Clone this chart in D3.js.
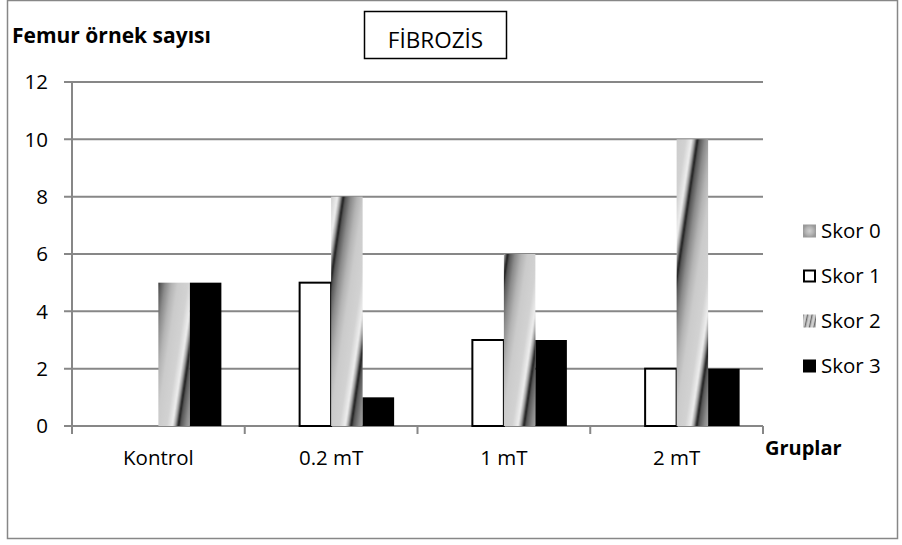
<!DOCTYPE html>
<html>
<head>
<meta charset="utf-8">
<script src="https://cdn.jsdelivr.net/npm/d3@7"></script>
<style>
  html, body { margin: 0; padding: 0; background: #fff; }
  svg { display: block; font-family: "Open Sans", sans-serif; }
</style>
</head>
<body>
<svg id="chart" width="902" height="545"></svg>
<script>
// Fibrosis scores of femur samples per group
const groups = ["Kontrol", "0.2 mT", "1 mT", "2 mT"];
const seriesNames = ["Skor 0", "Skor 1", "Skor 2", "Skor 3"];
const skor0 = [0, 0, 0, 0];
const skor1 = [0, 5, 3, 2];
const skor2 = [5, 8, 6, 10];
const skor3 = [5, 1, 3, 2];
const yTicks = [0, 2, 4, 6, 8, 10, 12];

const seriesValues = [skor0, skor1, skor2, skor3];

const svg = d3.select("#chart");
const defs = svg.append("defs");

const plot = { left: 72, right: 763, top: 82, bottom: 426 };
const gridColor = "#878787";

// outer chart frame
svg.append("rect")
  .attr("x", 7.5).attr("y", 0.5)
  .attr("width", 890).attr("height", 538)
  .attr("fill", "#fff").attr("stroke", gridColor).attr("stroke-width", 1.5);

const x = d3.scaleBand().domain(groups).range([plot.left, plot.right]).padding(0);
const xs = d3.scaleBand().domain(seriesNames).range([0, x.bandwidth()])
  .paddingInner(0).paddingOuter(0.742);
const y = d3.scaleLinear().domain([0, 12]).range([plot.bottom, plot.top]);

// striped shading gradient used by "Skor 2"
const grad = defs.append("linearGradient").attr("id", "stripeGrad")
  .attr("x1", 0).attr("x2", 1).attr("y1", 0).attr("y2", 0);
[
  [0.00, "#1a1a1a"], [0.05, "#555"], [0.18, "#8a8a8a"], [0.33, "#b3b3b3"],
  [0.48, "#cbcbcb"], [0.72, "#d2d2d2"], [0.86, "#eeeeee"], [0.93, "#a0a0a0"],
  [1.00, "#1a1a1a"]
].forEach(([o, c]) => grad.append("stop").attr("offset", o).attr("stop-color", c));

// soft grey texture used by "Skor 0"
const rg = defs.append("radialGradient").attr("id", "softGrey");
rg.append("stop").attr("offset", 0).attr("stop-color", "#d0d0d0");
rg.append("stop").attr("offset", 0.6).attr("stop-color", "#b4b4b4");
rg.append("stop").attr("offset", 1).attr("stop-color", "#9a9a9a");
defs.append("filter").attr("id", "soft")
  .append("feGaussianBlur").attr("stdDeviation", 0.6);

function stripePattern(id, ox, oy, period) {
  const p = defs.append("pattern").attr("id", id)
    .attr("patternUnits", "userSpaceOnUse")
    .attr("width", period).attr("height", 10)
    .attr("patternTransform", `translate(${ox},${oy}) skewX(-8.5)`);
  p.append("rect").attr("width", period).attr("height", 10).attr("fill", "url(#stripeGrad)");
  return `url(#${id})`;
}

// gridlines + y ticks
const yAxis = svg.append("g");
yAxis.selectAll("line.grid").data(yTicks).join("line")
  .attr("x1", plot.left - 8).attr("x2", plot.right)
  .attr("y1", d => y(d)).attr("y2", d => y(d))
  .attr("stroke", gridColor).attr("stroke-width", 2);
yAxis.append("line")
  .attr("x1", plot.left).attr("x2", plot.left)
  .attr("y1", plot.top).attr("y2", plot.bottom + 1)
  .attr("stroke", gridColor).attr("stroke-width", 2);
yAxis.selectAll("text").data(yTicks).join("text")
  .attr("x", 48).attr("y", d => y(d)).attr("dy", "0.36em")
  .attr("text-anchor", "end").attr("font-size", 20.5).attr("fill", "#000")
  .text(d => d);

// x category boundaries
const bounds = groups.map(g => x(g)).concat([plot.right]);
svg.append("g").selectAll("line").data(bounds).join("line")
  .attr("x1", d => d).attr("x2", d => d)
  .attr("y1", plot.bottom).attr("y2", plot.bottom + 8)
  .attr("stroke", gridColor).attr("stroke-width", 2);

// bars
const barData = [];
groups.forEach((g, gi) => {
  seriesNames.forEach((s, si) => {
    barData.push({ g, s, si, v: seriesValues[si][gi] });
  });
});

function fillFor(d, i) {
  if (d.si === 0) return "url(#softGrey)";
  if (d.si === 1) return "#fff";
  if (d.si === 2) return stripePattern("stripe" + i, x(d.g) + xs(d.s) + 20, plot.bottom, 42);
  return "#000";
}

svg.append("g").selectAll("rect").data(barData.filter(d => d.v > 0)).join("rect")
  .attr("x", d => x(d.g) + xs(d.s))
  .attr("y", d => y(d.v))
  .attr("width", xs.bandwidth())
  .attr("height", d => y(0) - y(d.v))
  .attr("fill", (d, i) => fillFor(d, i))
  .attr("stroke", d => d.si === 1 ? "#000" : "none")
  .attr("stroke-width", d => d.si === 1 ? 2 : 0);

// category labels
svg.append("g").selectAll("text").data(groups).join("text")
  .attr("x", d => x(d) + x.bandwidth() / 2)
  .attr("y", 465)
  .attr("text-anchor", "middle").attr("font-size", 20.5).attr("fill", "#000")
  .text(d => d);

// axis titles
svg.append("text").attr("x", 12).attr("y", 43)
  .attr("font-size", 21).attr("font-weight", "bold").attr("fill", "#000")
  .text("Femur örnek sayısı");
svg.append("text").attr("x", 765).attr("y", 455)
  .attr("font-size", 20).attr("font-weight", "bold").attr("fill", "#000")
  .text("Gruplar");

// chart title box
svg.append("rect").attr("x", 364.5).attr("y", 11.5).attr("width", 142).attr("height", 47)
  .attr("fill", "#fff").attr("stroke", "#000").attr("stroke-width", 1.5);
svg.append("text").attr("x", 435.5).attr("y", 48)
  .attr("text-anchor", "middle").attr("font-size", 22.5).attr("fill", "#000")
  .text("FİBROZİS");

// legend
const legendY = [231, 276, 321, 366];
const leg = svg.append("g").selectAll("g").data(seriesNames).join("g")
  .attr("transform", (d, i) => `translate(803,${legendY[i]})`);
leg.each(function (d, i) {
  const g = d3.select(this);
  if (i === 0) {
    g.append("rect").attr("x", 0).attr("y", -6.5).attr("width", 13).attr("height", 13)
      .attr("fill", "url(#softGrey)").attr("filter", "url(#soft)");
  } else if (i === 1) {
    g.append("rect").attr("x", 1).attr("y", -5.5).attr("width", 11).attr("height", 11)
      .attr("fill", "#fff").attr("stroke", "#000").attr("stroke-width", 2);
  } else if (i === 2) {
    const p = defs.append("pattern").attr("id", "legStripe")
      .attr("patternUnits", "userSpaceOnUse").attr("width", 4.5).attr("height", 10)
      .attr("patternTransform", `translate(803,${legendY[i]}) skewX(-12)`);
    p.append("rect").attr("width", 4.5).attr("height", 10).attr("fill", "url(#stripeGrad)");
    g.append("rect").attr("x", 0).attr("y", -6.5).attr("width", 13).attr("height", 13)
      .attr("fill", "url(#legStripe)");
  } else {
    g.append("rect").attr("x", 0).attr("y", -6.5).attr("width", 13).attr("height", 13)
      .attr("fill", "#000");
  }
  g.append("text").attr("x", 18).attr("y", 0).attr("dy", "0.36em")
    .attr("font-size", 20.5).attr("fill", "#000").text(d);
});
</script>
</body>
</html>
